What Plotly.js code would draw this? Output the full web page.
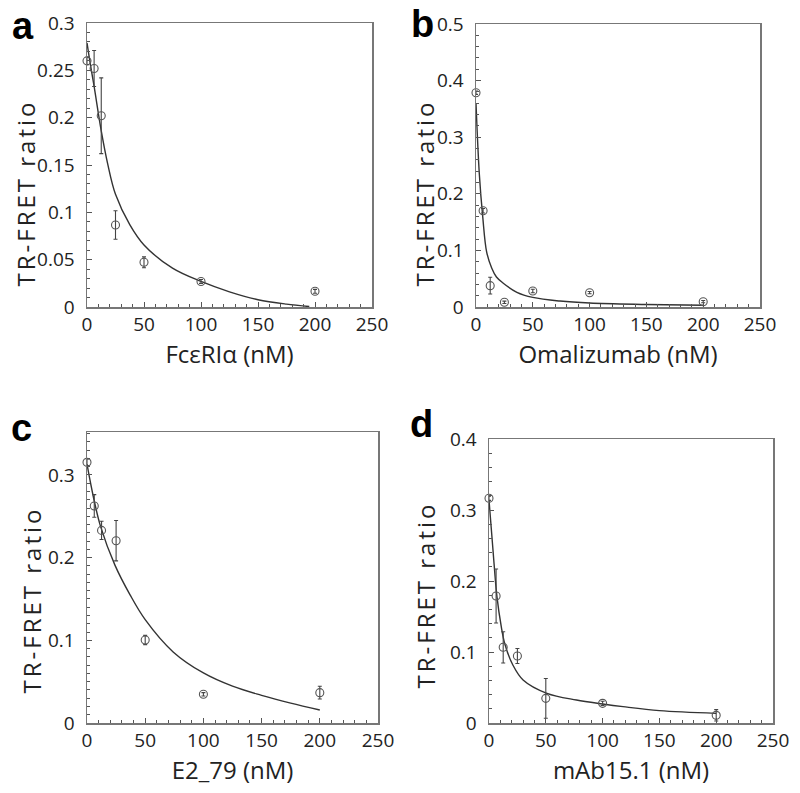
<!DOCTYPE html>
<html>
<head>
<meta charset="utf-8">
<script src="https://cdn.plot.ly/plotly-3.0.1.min.js"></script>
<style>
html,body{margin:0;padding:0;background:#fff;}
#chart{width:800px;height:793px;}
</style>
</head>
<body>
<div id="chart"></div>
<script>
// Measured points (x in nM)
const conc = [0, 6.25, 12.5, 25, 50, 100, 200];

const aY   = [0.260, 0.252, 0.202, 0.0866, 0.0472, 0.027, 0.0166];
const aErr = [0.004, 0.019, 0.040, 0.015, 0.0058, 0.002, 0.002];
const aFitX = [0, 3, 6.25, 12.5, 18, 25, 37.5, 50, 75, 100, 125, 150, 175, 195];
const aFitY = [0.279, 0.256, 0.233, 0.186, 0.152, 0.119, 0.087, 0.0655, 0.041, 0.027, 0.016, 0.0077, 0.003, 0.0005];

const bY   = [0.3786, 0.170, 0.0377, 0.0083, 0.0283, 0.0253, 0.0094];
const bErr = [0.003, 0.004, 0.0148, 0.002, 0.003, 0.002, 0.002];
const bFitX = [0, 2.9, 5.9, 9.4, 13.8, 18, 24, 36, 50, 74, 100, 150, 200];
const bFitY = [0.360, 0.236, 0.160, 0.097, 0.069, 0.053, 0.042, 0.026, 0.017, 0.0105, 0.007, 0.0045, 0.003];

const cY   = [0.3153, 0.2625, 0.233, 0.2205, 0.1004, 0.0347, 0.0367];
const cErr = [0.004, 0.0137, 0.011, 0.0244, 0.0056, 0.002, 0.0077];
const cFitX = [0, 5.4, 11.7, 24, 37, 50, 74, 100, 125, 150, 175, 200];
const cFitY = [0.313, 0.274, 0.2375, 0.191, 0.155, 0.125, 0.086, 0.0605, 0.0445, 0.0335, 0.024, 0.0157];

const dY   = [0.3165, 0.1789, 0.1066, 0.0944, 0.0347, 0.0277, 0.0108];
const dErr = [0.003, 0.038, 0.022, 0.0105, 0.028, 0.003, 0.008];
const dFitX = [0, 3.5, 7, 10.8, 13.8, 21, 30, 51, 77, 100, 118, 150, 200];
const dFitY = [0.314, 0.2437, 0.178, 0.1357, 0.112, 0.0817, 0.0606, 0.0418, 0.0324, 0.0268, 0.023, 0.0174, 0.0136];

const xTitles = ["Fc\u03b5RI\u03b1 (nM)", "Omalizumab (nM)", "E2_79 (nM)", "mAb15.1 (nM)"];
const yTitle = "TR-FRET ratio";
const panelLetters = ["a", "b", "c", "d"];
const yRanges = [[0, 0.3], [0, 0.5], [0, 0.352], [0, 0.4]];
const yDticks = [0.05, 0.1, 0.1, 0.1];
const yMinor = [0.01, 0.02, 0.01, 0.02];

const panels = [
  {y: aY, e: aErr, fx: aFitX, fy: aFitY},
  {y: bY, e: bErr, fx: bFitX, fy: bFitY},
  {y: cY, e: cErr, fx: cFitX, fy: cFitY},
  {y: dY, e: dErr, fx: dFitX, fy: dFitY}
];

const W = 800, H = 793;
// plot-area pixel boxes [left, right, top, bottom]
const boxes = [[87, 372, 23, 307], [476, 760, 24, 307], [87, 378, 432, 723], [489, 773, 439, 723]];
const letterPos = [[23, 26], [422, 24], [21, 428], [421, 424]];
const yTitlePos = [[26, 193], [425, 193], [31, 600], [425, 595]];

const FONT = "Open Sans, sans-serif";
const traces = [];
const layout = {
  width: W, height: H,
  margin: {l: 0, r: 0, t: 0, b: 0},
  paper_bgcolor: "#fff", plot_bgcolor: "#fff",
  showlegend: false,
  font: {family: FONT, color: "#222"},
  annotations: []
};

panels.forEach((p, i) => {
  const n = i + 1;
  const xa = n === 1 ? "x" : "x" + n;
  const ya = n === 1 ? "y" : "y" + n;
  traces.push({
    x: p.fx, y: p.fy, xaxis: xa, yaxis: ya, type: "scatter", mode: "lines",
    line: {color: "#333", width: 1.4, shape: "spline", smoothing: 1}, hoverinfo: "skip"
  });
  traces.push({
    x: conc, y: p.y, xaxis: xa, yaxis: ya, type: "scatter", mode: "markers", cliponaxis: false,
    marker: {symbol: "circle-open", size: 8, color: "#555", line: {width: 1.1, color: "#555"}},
    error_y: {type: "data", array: p.e, visible: true, color: "#444", thickness: 1.1, width: 2}
  });
  const b = boxes[i];
  const axCommon = {
    showline: true, linecolor: "#777", linewidth: 1.5, mirror: true,
    ticks: "inside", ticklen: 5, tickcolor: "#555", tickwidth: 1,
    showgrid: false, zeroline: false,
    tickfont: {family: FONT, size: 19, color: "#222"}
  };
  layout["xaxis" + (n === 1 ? "" : n)] = Object.assign({}, axCommon, {
    domain: [b[0] / W, b[1] / W], anchor: ya, range: [0, 250], dtick: 50, tick0: 0,
    minor: {dtick: 10, ticks: "inside", ticklen: 3, tickcolor: "#555"},
    title: {text: xTitles[i], font: {family: FONT, size: 24, color: "#222"}, standoff: 6}
  });
  layout["yaxis" + (n === 1 ? "" : n)] = Object.assign({}, axCommon, {
    domain: [1 - b[3] / H, 1 - b[2] / H], anchor: xa, range: yRanges[i], dtick: yDticks[i], tick0: 0,
    minor: {dtick: yMinor[i], ticks: "inside", ticklen: 3, tickcolor: "#555"},
    ticklabelstandoff: 7
  });
  layout.annotations.push({
    text: "<b>" + panelLetters[i] + "</b>", xref: "paper", yref: "paper",
    x: letterPos[i][0] / W, y: 1 - letterPos[i][1] / H, xanchor: "center", yanchor: "middle",
    showarrow: false, font: {family: "Liberation Sans, Arial, sans-serif", size: 38, color: "#000"}
  });
});
// y-axis titles (placed as rotated text beside each axis)
yTitlePos.forEach((pos) => {
  layout.annotations.push({
    text: yTitle, xref: "paper", yref: "paper", textangle: -90,
    x: pos[0] / W, y: 1 - pos[1] / H, xanchor: "center", yanchor: "middle",
    showarrow: false, font: {family: FONT, size: 24, color: "#222"}
  });
});

Plotly.newPlot("chart", traces, layout, {displayModeBar: false, staticPlot: true}).then(() => {
  document.querySelectorAll("#chart .annotation-text").forEach((t) => {
    if (t.textContent === yTitle) t.style.letterSpacing = "3px";
  });
});
</script>
</body>
</html>
